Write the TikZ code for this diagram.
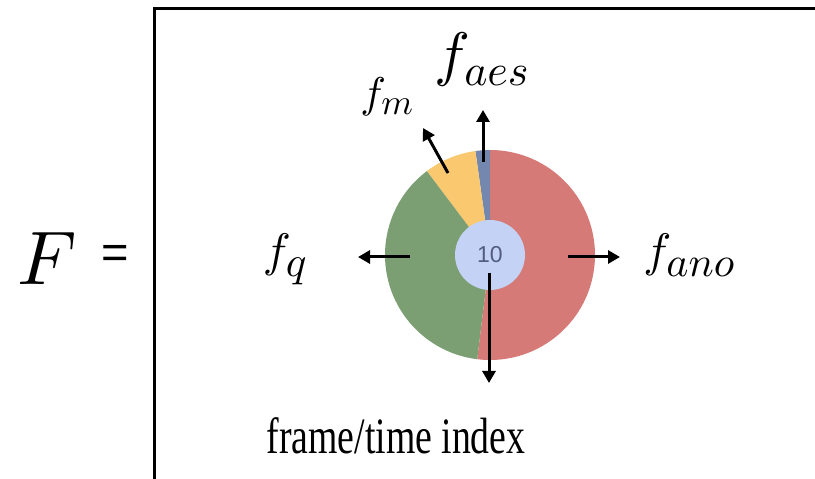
\documentclass[tikz,border=0pt]{standalone}
\usepackage{fontspec}
\usetikzlibrary{arrows.meta}
\DeclareFontFamily{OML}{cmm}{\skewchar\font'177}
\DeclareFontShape{OML}{cmm}{m}{it}{<->cmmi10}{}
\DeclareFontShape{OML}{cmm}{b}{it}{<->cmmib10}{}
\newfontfamily\lsans{Liberation Sans}
\newfontfamily\lserif{Liberation Serif}
\definecolor{pred}{RGB}{214,122,120}
\definecolor{pgreen}{RGB}{123,158,115}
\definecolor{pyellow}{RGB}{250,200,110}
\definecolor{pblue}{RGB}{115,135,175}
\definecolor{phub}{RGB}{195,210,245}
\definecolor{phubtxt}{RGB}{82,92,128}
\newcommand{\flab}[3]{\fontsize{#1}{#1}\selectfont$f_{\hbox{\fontsize{#2}{#2}\selectfont$#3$}}$}
\tikzset{
  arr/.style={line width=3pt,-{Triangle[length=12pt,width=13pt]}},
  lab/.style={inner sep=0pt},
  frameline/.style={line width=3pt,line join=miter},
}
\begin{document}
\begin{tikzpicture}[x=1pt,y=1pt]
\useasboundingbox (0,0) rectangle (815,479);
% frame
\draw[frameline] (815,470) -- (154,470) -- (154,0);
% pie
\coordinate (c) at (490,224);
\fill[pred] (c) -- ++(-97:105) arc[start angle=-97,end angle=90,radius=105] -- cycle;
\fill[pblue] (c) -- ++(90:105) arc[start angle=90,end angle=98,radius=105] -- cycle;
\fill[pyellow] (c) -- ++(98:105) arc[start angle=98,end angle=127,radius=105] -- cycle;
\fill[pgreen] (c) -- ++(127:105) arc[start angle=127,end angle=263,radius=105] -- cycle;
\node[circle,fill=phub,minimum size=70pt,inner sep=0pt,text=phubtxt,font=\lsans\fontsize{23}{23}\selectfont] (hub) at (c) {10};
% labels
\node[lab] (F) at (47,220) {\fontsize{76}{76}\selectfont$F$};
\node[lab,font=\lsans\fontsize{47}{47}\selectfont] (eq) at (115,222) {=};
\node[lab] (fq) at (285,220) {\flab{47}{43}{q}};
\node[lab] (fano) at (689,224) {\flab{47}{42}{ano}};
\node[lab] (fm) at (387,382) {\flab{43}{36}{m}};
\node[lab] (faes) at (482,419) {\flab{60}{44}{aes}};
\node[lab,anchor=base] (idx) at (396,25) {\scalebox{0.74}[1]{\lserif\fontsize{51}{51}\selectfont frame/time index}};
% arrow ends
\coordinate (upS) at (483,317); \coordinate (upE) at (483,369);
\coordinate (mS) at (448,306); \coordinate (mE) at (423,351);
\coordinate (lS) at (410,222); \coordinate (lE) at (358,222);
\coordinate (rS) at (568,222); \coordinate (rE) at (620,222);
\coordinate (dS) at (489,206); \coordinate (dE) at (489,96);
\draw[arr] (upS) -- (upE);
\draw[arr] (mS) -- (mE);
\draw[arr] (lS) -- (lE);
\draw[arr] (rS) -- (rE);
\draw[arr] (dS) -- (dE);
\end{tikzpicture}
\end{document}
